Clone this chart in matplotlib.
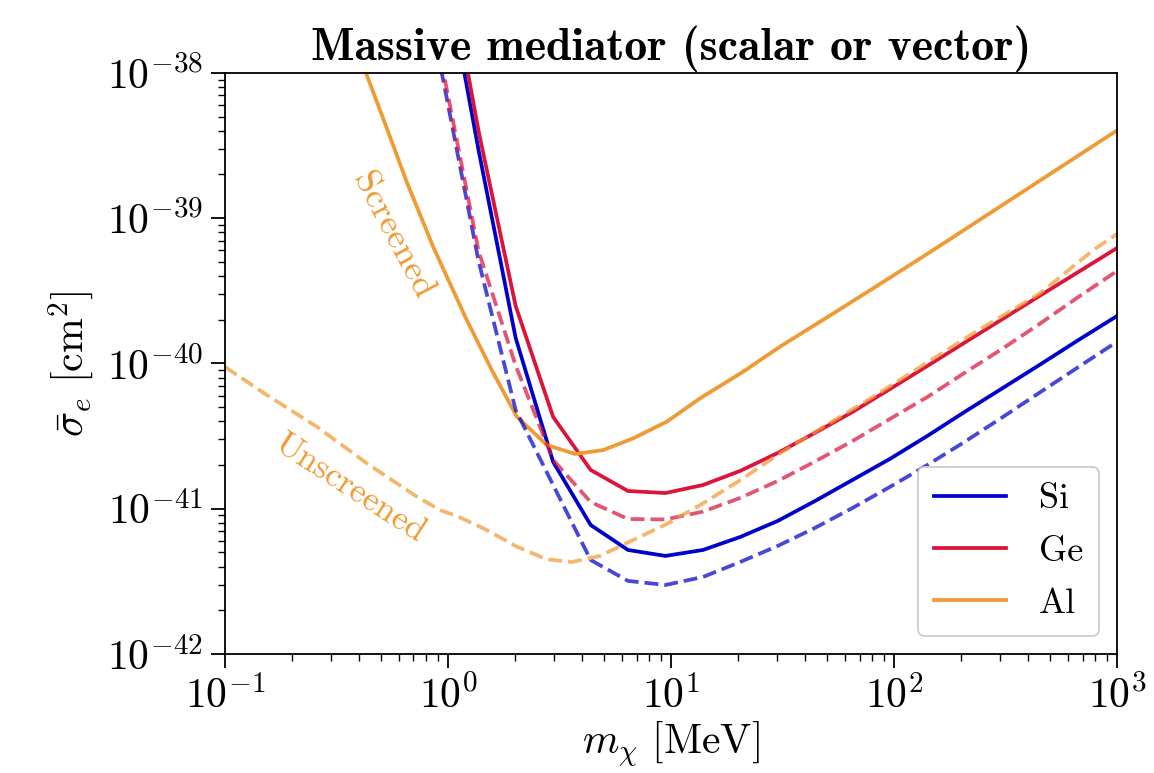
import matplotlib
matplotlib.use("Agg")
import matplotlib.pyplot as plt
import numpy as np
from matplotlib.ticker import FuncFormatter, FixedLocator, LogLocator, NullFormatter

plt.rcParams['font.family'] = 'serif'
plt.rcParams['font.serif'] = ['cmr10']
plt.rcParams['mathtext.fontset'] = 'cm'
plt.rcParams['axes.unicode_minus'] = False

# ---------------- data ----------------
# Si / Ge mass grid [MeV]
m_grid = [0.93, 1.37, 2.01, 2.96, 4.36, 6.41, 9.44, 13.9, 20.4, 30.1, 44.2,
          65.1, 95.8, 141, 207, 305, 449, 661, 1000]

si_screened_log = [-37.126, -38.530, -39.824, -40.678, -41.112, -41.284, -41.325,
                   -41.284, -41.195, -41.084, -40.947, -40.802, -40.657, -40.499,
                   -40.334, -40.172, -40.010, -39.845, -39.673]
si_unscreened_log = [-37.972, -39.294, -40.320, -40.837, -41.353, -41.497, -41.525,
                     -41.470, -41.367, -41.256, -41.132, -40.995, -40.850, -40.699,
                     -40.540, -40.372, -40.201, -40.031, -39.850]
ge_screened_log = [-36.981, -38.399, -39.604, -40.368, -40.733, -40.878, -40.892,
                   -40.837, -40.740, -40.616, -40.478, -40.334, -40.176, -40.017,
                   -39.857, -39.696, -39.535, -39.376, -39.205]
ge_unscreened_log = [-37.910, -39.225, -40.014, -40.664, -40.954, -41.071, -41.074,
                     -41.020, -40.926, -40.809, -40.675, -40.534, -40.382, -40.231,
                     -40.065, -39.900, -39.728, -39.549, -39.363]

# Al screened
al_s_m = [0.432, 0.531, 0.653, 0.859, 1.213, 1.570, 2.033, 2.771, 3.711, 4.970,
          6.776, 9.565, 13.49, 21.10, 30.83, 49.9, 80.7, 150.0, 298.6, 554.6, 1000]
al_s_log = [-38.014, -38.379, -38.751, -39.199, -39.701, -40.045, -40.366, -40.561,
            -40.623, -40.596, -40.515, -40.401, -40.240, -40.056, -39.884, -39.684,
            -39.482, -39.219, -38.920, -38.651, -38.395]

# Al unscreened
al_u_m = [0.1, 0.1538, 0.2577, 0.432, 0.559, 0.724, 0.921, 1.112, 1.440, 2.033,
          2.771, 3.587, 4.804, 6.776, 9.565, 13.96, 21.10, 30.83, 49.9, 80.7,
          135.3, 226.8, 451.6, 783, 1000]
al_u_log = [-40.024, -40.217, -40.435, -40.687, -40.802, -40.917, -41.009, -41.055,
            -41.135, -41.261, -41.348, -41.367, -41.325, -41.215, -41.105, -40.962,
            -40.790, -40.618, -40.423, -40.229, -40.010, -39.792, -39.517, -39.219,
            -39.108]

labels = ['Si', 'Ge', 'Al']
x_major = [1e-1, 1e0, 1e1, 1e2, 1e3]
y_major = [1e-42, 1e-41, 1e-40, 1e-39, 1e-38]
c_si = '#0000CC'
c_ge = '#DC143C'
c_al = '#EF9A33'

# ---------------- figure ----------------
fig = plt.figure(figsize=(11.54, 7.73), dpi=100)
ax = fig.add_axes([0.195, 0.154, 0.773, 0.7516])

lw = 2.7
ax.plot(m_grid, 10.0 ** np.array(si_screened_log), color=c_si, lw=lw, label=labels[0])
ax.plot(m_grid, 10.0 ** np.array(ge_screened_log), color=c_ge, lw=lw, label=labels[1])
ax.plot(al_s_m, 10.0 ** np.array(al_s_log), color=c_al, lw=lw, label=labels[2])
ax.plot(m_grid, 10.0 ** np.array(si_unscreened_log), color=c_si, lw=lw, ls='--', alpha=0.72)
ax.plot(m_grid, 10.0 ** np.array(ge_unscreened_log), color=c_ge, lw=lw, ls='--', alpha=0.72)
ax.plot(al_u_m, 10.0 ** np.array(al_u_log), color=c_al, lw=lw, ls='--', alpha=0.72)

ax.set_xscale('log')
ax.set_yscale('log')
ax.set_xlim(0.1, 1000)
ax.set_ylim(1e-42, 1e-38)

fmt = FuncFormatter(lambda v, p: r'$10^{%d}$' % int(round(np.log10(v))))
ax.xaxis.set_major_locator(FixedLocator(x_major))
ax.yaxis.set_major_locator(FixedLocator(y_major))
ax.xaxis.set_major_formatter(fmt)
ax.yaxis.set_major_formatter(fmt)
ax.xaxis.set_minor_locator(LogLocator(base=10, subs=np.arange(2, 10), numticks=20))
ax.yaxis.set_minor_locator(LogLocator(base=10, subs=np.arange(2, 10), numticks=20))
ax.xaxis.set_minor_formatter(NullFormatter())
ax.yaxis.set_minor_formatter(NullFormatter())
ax.tick_params(which='major', length=10, width=1.3, labelsize=30, pad=6)
ax.tick_params(which='minor', length=5, width=1.0)
for s in ax.spines.values():
    s.set_linewidth(1.3)

ax.set_xlabel(r'$m_\chi\ [\mathrm{MeV}]$', fontsize=30, labelpad=2)
ax.set_ylabel(r'$\bar{\sigma}_e\ [\mathrm{cm}^2]$', fontsize=30, labelpad=8)
ax.set_title('Massive mediator (scalar or vector)', fontsize=33, family='cmb10', pad=9)

ax.text(0.56, 7.6e-40, 'Screened', color=c_al, fontsize=26, rotation=-62,
        ha='center', va='center')
ax.text(0.365, 1.37e-41, 'Unscreened', color=c_al, fontsize=25, rotation=-33,
        ha='center', va='center')

leg = ax.legend(loc='lower right', fontsize=26, frameon=True, fancybox=True,
                framealpha=1.0, edgecolor='#CCCCCC', handlelength=2.0,
                borderpad=0.45, labelspacing=0.55, handletextpad=0.9,
                borderaxespad=0.5)
leg.get_frame().set_linewidth(1.3)

fig.savefig('out.png', dpi=100)
